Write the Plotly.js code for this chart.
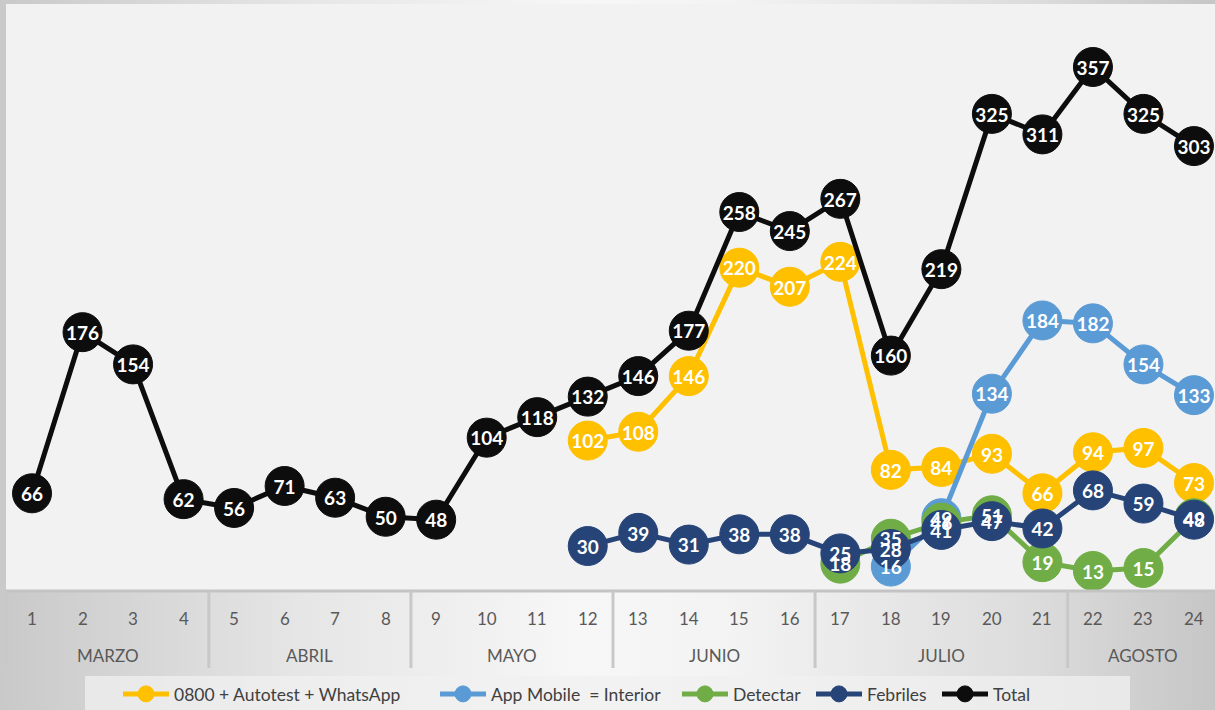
<!DOCTYPE html>
<html>
<head>
<meta charset="utf-8">
<script src="https://cdn.plot.ly/plotly-3.0.1.min.js"></script>
<style>
  html, body { margin: 0; padding: 0; overflow: hidden; }
  body { width: 1215px; height: 710px;
    background: linear-gradient(90deg, #c9c9c9 0%, #e6e6e6 25%, #f7f7f7 48%, #f3f3f3 60%, #dcdcdc 85%, #c6c6c6 100%); }
  #chart { width: 1215px; height: 710px; }
</style>
</head>
<body>
<div id="chart"></div>
<script>
// ---- data ----
const days = [1,2,3,4,5,6,7,8,9,10,11,12,13,14,15,16,17,18,19,20,21,22,23,24];
const dayLabels = days.map(String);
const months = ["MARZO","ABRIL","MAYO","JUNIO","JULIO","AGOSTO"];
const monthStart = [1,5,9,13,17,22];
const monthEnd   = [4,8,12,16,21,24];

const seriesNames = ["0800 + Autotest + WhatsApp","App Mobile  = Interior","Detectar","Febriles","Total"];
const autotest = [null,null,null,null,null,null,null,null,null,null,null,102,108,146,220,207,224,82,84,93,66,94,97,73];
const appMobile = [null,null,null,null,null,null,null,null,null,null,null,null,null,null,null,null,null,16,49,134,184,182,154,133];
const detectar = [null,null,null,null,null,null,null,null,null,null,null,null,null,null,null,null,18,35,46,51,19,13,15,49];
const febriles = [null,null,null,null,null,null,null,null,null,null,null,30,39,31,38,38,25,28,41,47,42,68,59,48];
const total = [66,176,154,62,56,71,63,50,48,104,118,132,146,177,258,245,267,160,219,325,311,357,325,303];

const colors = ["#FFC000","#5B9BD5","#70AD47","#264478","#0d0d0d"];
const allSeries = [autotest, appMobile, detectar, febriles, total];
const legendTextStart = [173, 490, 732, 866, 992];

const FONT = "Lato, 'Open Sans', sans-serif";
const legendIds = ["legend","legend2","legend3","legend4","legend5"];
const traces = [];
allSeries.forEach((vals, i) => {
  traces.push({
    x: days, y: vals, name: seriesNames[i], type: "scatter", mode: "lines+markers",
    legend: legendIds[i], connectgaps: false,
    line: {color: colors[i], width: 5},
    marker: {color: colors[i], size: 39, line: {color: colors[i], width: 1}},
    hoverinfo: "skip"
  });
});
// data labels drawn above all series (as in the original)
allSeries.forEach((vals, i) => {
  traces.push({
    x: days, y: vals, type: "scatter", mode: "text", showlegend: false, yaxis: "y2",
    text: vals.map(v => v === null ? "" : String(v)),
    textposition: "middle center",
    textfont: {family: FONT, size: 19, color: "#ffffff", weight: "bold"},
    hoverinfo: "skip"
  });
});

// axis labels & separators
const plotTop = 4, plotBottom = 590, plotH = plotBottom - plotTop;
const yMax = 400, pxPerUnit = plotH / yMax, textShift = 3 / pxPerUnit;
const py = px => -(px - plotBottom) / plotH;
const annotations = [];
days.forEach((d, i) => annotations.push({
  x: d, xref: "x", y: py(618), yref: "paper", text: dayLabels[i], showarrow: false,
  xanchor: "center", yanchor: "middle", font: {family: FONT, size: 17, color: "#595959"}
}));
months.forEach((m, i) => annotations.push({
  x: (monthStart[i] + monthEnd[i]) / 2, xref: "x", y: py(655), yref: "paper", text: m,
  showarrow: false, xanchor: "center", yanchor: "middle",
  font: {family: FONT, size: 17, color: "#595959"}
}));
const shapes = [
  {type: "rect", xref: "paper", yref: "paper", x0: (85 - 6) / 1209, x1: (1130 - 6) / 1209,
   y0: py(676), y1: py(712), line: {width: 0}, fillcolor: "rgba(240,240,240,0.75)", layer: "below"},
  {type: "line", xref: "paper", yref: "paper", x0: 0, x1: 1, y0: py(591), y1: py(591),
   line: {color: "#c3c3c3", width: 3}},
  {type: "line", xref: "paper", yref: "paper", x0: 0, x1: 0, y0: py(591), y1: py(668),
   line: {color: "#c8c8c8", width: 3}}
];
monthEnd.slice(0, -1).forEach(e => shapes.push({
  type: "line", xref: "x", yref: "paper", x0: e + 0.5, x1: e + 0.5, y0: py(591), y1: py(668),
  line: {color: "#c8c8c8", width: 3}
}));

const layout = {
  width: 1215, height: 710,
  margin: {l: 6, r: 0, t: 4, b: 120, pad: 0},
  paper_bgcolor: "rgba(0,0,0,0)",
  plot_bgcolor: "#f2f2f2",
  showlegend: true,
  xaxis: {range: [0.485, 24.416], showgrid: false, zeroline: false, showticklabels: false,
    ticks: "", fixedrange: true},
  yaxis: {range: [0, yMax], showgrid: false, zeroline: false, showticklabels: false,
    ticks: "", fixedrange: true},
  yaxis2: {range: [textShift, yMax + textShift], overlaying: "y", showgrid: false, zeroline: false,
    showticklabels: false, ticks: "", fixedrange: true},
  annotations: annotations,
  shapes: shapes,
  font: {family: FONT}
};
legendIds.forEach((id, i) => {
  layout[id] = {orientation: "h", xref: "container", yref: "container",
    x: (legendTextStart[i] - 55) / 1215, xanchor: "left", y: (710 - 676) / 710, yanchor: "top",
    bgcolor: "rgba(0,0,0,0)", font: {family: FONT, size: 17.5, color: "#404040"},
    itemwidth: 46, itemclick: false};
});

Plotly.newPlot("chart", traces, layout, {displayModeBar: false, staticPlot: true});
</script>
</body>
</html>
